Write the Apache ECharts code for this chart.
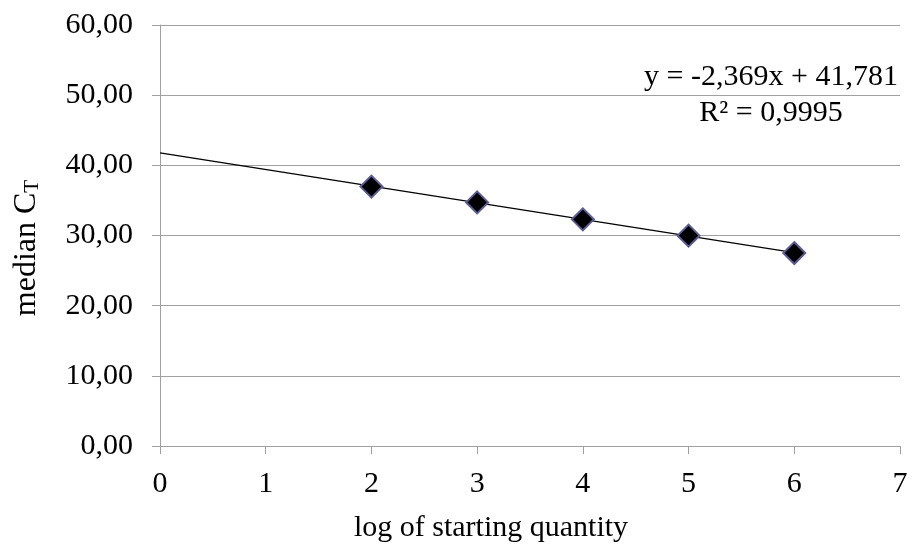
<!DOCTYPE html>
<html>
<head>
<meta charset="utf-8">
<script src="https://cdn.jsdelivr.net/npm/echarts@6/dist/echarts.min.js"></script>
<style>
  html, body { margin: 0; padding: 0; background: #fff; }
  #chart { width: 912px; height: 546px; }
</style>
</head>
<body>
<div id="chart"></div>
<script>
// Standard curve: median Ct against log of the starting quantity
const logQuantity = [2, 3, 4, 5, 6];
const medianCt = [36.97, 34.72, 32.30, 29.98, 27.50];

// Linear trendline coefficients (as printed on the chart)
const slope = -2.369;
const intercept = 41.781;
const rSquared = 0.9995;
const trendRange = [0, 6];

const FONT = '"Liberation Serif", "Times New Roman", serif';
const FS = 30;
const GRID = '#a0a0a0';

const fmt = (v, d) => v.toFixed(d).replace('.', ',');

const points = logQuantity.map((x, i) => [x, medianCt[i]]);
const trend = trendRange.map(x => [x, slope * x + intercept]);

const eqText = 'y = ' + fmt(slope, 3) + 'x + ' + fmt(intercept, 3);
const r2Text = 'R\u00B2 = ' + fmt(rSquared, 4);

const chart = echarts.init(document.getElementById('chart'), null, { renderer: 'canvas' });
chart.setOption({
  animation: false,
  backgroundColor: '#fff',
  grid: { left: 160, right: 12, top: 25, bottom: 100 },
  xAxis: {
    type: 'value',
    min: 0, max: 7, interval: 1,
    axisLine: { show: true, lineStyle: { color: GRID, width: 1 } },
    axisTick: { show: true, length: 8, lineStyle: { color: GRID } },
    axisLabel: { color: '#000', fontFamily: FONT, fontSize: FS, margin: 23 },
    splitLine: { show: false }
  },
  yAxis: {
    type: 'value',
    min: 0, max: 60, interval: 10,
    axisLine: { show: true, lineStyle: { color: GRID, width: 1 } },
    axisTick: { show: true, length: 8, lineStyle: { color: GRID } },
    axisLabel: {
      color: '#000', fontFamily: FONT, fontSize: FS, margin: 27,
      formatter: v => fmt(v, 2)
    },
    splitLine: { show: true, lineStyle: { color: GRID, width: 1 } }
  },
  series: [
    {
      name: 'trend',
      type: 'line',
      data: trend,
      symbol: 'none',
      lineStyle: { color: '#000', width: 1.3 },
      z: 2
    },
    {
      name: 'median CT',
      type: 'scatter',
      data: points,
      symbol: 'diamond',
      symbolSize: 22,
      itemStyle: { color: '#000', borderColor: '#5c5c96', borderWidth: 2, opacity: 1 },
      z: 3
    }
  ],
  graphic: [
    {
      type: 'text', x: 771, y: 77,
      style: { text: eqText, font: FS + 'px ' + FONT, fill: '#000', align: 'center', verticalAlign: 'middle' }
    },
    {
      type: 'text', x: 771, y: 113,
      style: { text: r2Text, font: FS + 'px ' + FONT, fill: '#000', align: 'center', verticalAlign: 'middle' }
    },
    {
      type: 'text', x: 491, y: 528,
      style: { text: 'log of starting quantity', font: FS + 'px ' + FONT, fill: '#000', align: 'center', verticalAlign: 'middle' }
    },
    {
      type: 'text', x: 25, y: 248, rotation: Math.PI / 2,
      style: {
        text: '{a|median C}{b|T}',
        align: 'center', verticalAlign: 'middle',
        rich: {
          a: { fontFamily: FONT, fontSize: 32, fill: '#000', color: '#000', lineHeight: 36, verticalAlign: 'bottom' },
          b: { fontFamily: FONT, fontSize: 21, fill: '#000', color: '#000', lineHeight: 36, verticalAlign: 'bottom', padding: [15, 0, 0, 0] }
        }
      }
    }
  ]
});
</script>
</body>
</html>
